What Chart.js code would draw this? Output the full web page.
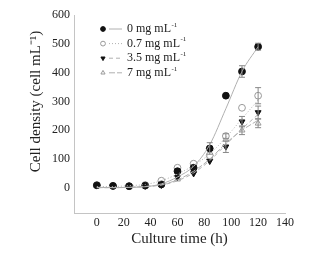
<!DOCTYPE html>
<html>
<head>
<meta charset="utf-8">
<script src="https://cdn.jsdelivr.net/npm/chart.js@4/dist/chart.umd.min.js"></script>
<style>
  html, body { margin: 0; padding: 0; background: #fff; }
  #wrap { width: 329px; height: 257px; }
</style>
</head>
<body>
<div id="wrap"><canvas id="ChartCanvas"></canvas></div>
<script>
// values
const times = [0, 12, 24, 36, 48, 60, 72, 84, 96, 108, 120];
const xTicks = [0, 20, 40, 60, 80, 100, 120, 140];
const yTicks = [0, 100, 200, 300, 400, 500, 600];

const labels = ['0 mg mL', '0.7 mg mL', '3.5 mg mL', '7 mg mL'];

const mean0 = [9, 7, 6, 8, 12, 58, 70, 137, 320, 404, 490];
const mean07 = [10, 7, 6, 10, 25, 70, 84, 113, 180, 278, 320];
const mean35 = [8, 5, 5, 7, 10, 37, 50, 93, 143, 230, 262];
const mean7 = [8, 6, 6, 9, 15, 30, 62, 105, 168, 200, 224];

const err0 = [0, 0, 0, 0, 0, 0, 0, 20, 0, 20, 12];
const err07 = [0, 0, 0, 0, 0, 0, 0, 0, 8, 0, 28];
const err35 = [0, 0, 0, 0, 0, 0, 0, 0, 20, 18, 22];
const err7 = [0, 0, 0, 0, 0, 0, 0, 0, 0, 15, 15];

// fitted growth curves
const fit0 = [2, 1, 2, 4, 14, 38, 75, 150, 275, 404, 490];
const fit07 = [5, 5, 8, 12, 25, 48, 78, 118, 175, 240, 305];
const fit35 = [1, 1, 2, 5, 10, 25, 52, 95, 150, 205, 255];
const fit7 = [1, 1, 2, 5, 11, 28, 58, 100, 155, 200, 235];

const lineGray = '#b0b0b0';
const series = [
    { mean: mean0, err: err0, fit: fit0, style: 'circle', rot: 0, fill: '#111', stroke: '#111', dash: [] },
    { mean: mean07, err: err07, fit: fit07, style: 'circle', rot: 0, fill: '#fff', stroke: '#999', dash: [1, 2] },
    { mean: mean35, err: err35, fit: fit35, style: 'triangle', rot: 180, fill: '#111', stroke: '#111', dash: [4, 3] },
    { mean: mean7, err: err7, fit: fit7, style: 'triangle', rot: 0, fill: '#fff', stroke: '#999', dash: [6, 2] }
];

const datasets = [];
series.forEach(s => {
    datasets.push({
        data: times.map((t, i) => ({ x: t, y: s.fit[i] })),
        showLine: true,
        borderColor: lineGray,
        borderWidth: 1,
        borderDash: s.dash,
        pointRadius: 0,
        cubicInterpolationMode: 'monotone'
    });
});
series.forEach(s => {
    datasets.push({
        data: times.map((t, i) => ({ x: t, y: s.mean[i] })),
        showLine: false,
        pointStyle: s.style,
        rotation: s.rot,
        pointRadius: 3.4,
        pointBackgroundColor: s.fill,
        pointBorderColor: s.stroke,
        pointBorderWidth: 1,
        errors: s.err
    });
});

const errorBars = {
    id: 'errorBars',
    afterDatasetsDraw(chart) {
        const ctx = chart.ctx;
        const xs = chart.scales.x, ys = chart.scales.y;
        ctx.save();
        ctx.strokeStyle = '#888';
        ctx.lineWidth = 1;
        chart.data.datasets.forEach(ds => {
            if (!ds.errors) return;
            ds.data.forEach((p, i) => {
                const e = ds.errors[i];
                if (!e) return;
                const x = xs.getPixelForValue(p.x);
                const y1 = ys.getPixelForValue(p.y - e);
                const y2 = ys.getPixelForValue(p.y + e);
                ctx.beginPath();
                ctx.moveTo(x, y1); ctx.lineTo(x, y2);
                ctx.moveTo(x - 3, y1); ctx.lineTo(x + 3, y1);
                ctx.moveTo(x - 3, y2); ctx.lineTo(x + 3, y2);
                ctx.stroke();
            });
        });
        ctx.restore();
    }
};

// legend and y title drawn by hand so they sit where the original has them
const legendBox = {
    id: 'legendBox',
    afterDraw(chart) {
        const ctx = chart.ctx;
        ctx.save();
        series.forEach((s, i) => {
            const y = 29 + i * 14.6;
            ctx.fillStyle = s.fill;
            ctx.strokeStyle = s.stroke;
            ctx.lineWidth = 1;
            Chart.helpers.drawPoint(ctx, { pointStyle: s.style, rotation: s.rot, radius: 2.4, borderWidth: 1 }, 103, y);
            ctx.strokeStyle = lineGray;
            ctx.setLineDash(s.dash);
            ctx.beginPath();
            ctx.moveTo(109, y); ctx.lineTo(122, y);
            ctx.stroke();
            ctx.setLineDash([]);
            ctx.fillStyle = '#222';
            ctx.textBaseline = 'middle';
            ctx.font = '12px "Liberation Serif", serif';
            ctx.fillText(labels[i], 127, y);
            const w = ctx.measureText(labels[i]).width;
            ctx.font = '7px "Liberation Serif", serif';
            ctx.fillText('-1', 127 + w + 0.5, y - 4);
        });

        // y axis title
        const ys = chart.scales.y;
        const cy = (ys.getPixelForValue(0) + ys.getPixelForValue(600)) / 2;
        ctx.translate(36, cy);
        ctx.rotate(-Math.PI / 2);
        ctx.fillStyle = '#222';
        ctx.textAlign = 'center';
        ctx.textBaseline = 'middle';
        ctx.font = '15px "Liberation Serif", serif';
        ctx.fillText('Cell density (cell mL⁻¹)', 0, 0);
        ctx.restore();
    }
};

const tickFont = { family: '"Liberation Serif", serif', size: 12 };

new Chart(document.getElementById('ChartCanvas'), {
    type: 'scatter',
    data: { datasets: datasets },
    plugins: [errorBars, legendBox],
    options: {
        responsive: true,
        maintainAspectRatio: false,
        animation: false,
        layout: { padding: { left: 0, right: 44, top: 15, bottom: 0 } },
        plugins: { legend: { display: false }, tooltip: { enabled: false } },
        scales: {
            x: {
                type: 'linear',
                min: -17,
                max: 140,
                afterBuildTicks: s => { s.ticks = xTicks.map(v => ({ value: v })); },
                afterFit: s => { s.height = 44; },
                grid: { display: false, drawTicks: false },
                border: { display: true, color: '#c4c4c4' },
                ticks: { color: '#222', font: tickFont, padding: 3 },
                title: { display: true, text: 'Culture time (h)', color: '#222',
                         font: { family: '"Liberation Serif", serif', size: 15 }, padding: { top: 0, bottom: 9 } }
            },
            y: {
                type: 'linear',
                min: -87,
                max: 600,
                afterBuildTicks: s => { s.ticks = yTicks.map(v => ({ value: v })); },
                afterFit: s => { s.width = 74; },
                grid: { display: false, drawTicks: false },
                border: { display: true, color: '#c4c4c4' },
                ticks: { color: '#222', font: tickFont, padding: 4 }
            }
        }
    }
});
</script>
</body>
</html>
